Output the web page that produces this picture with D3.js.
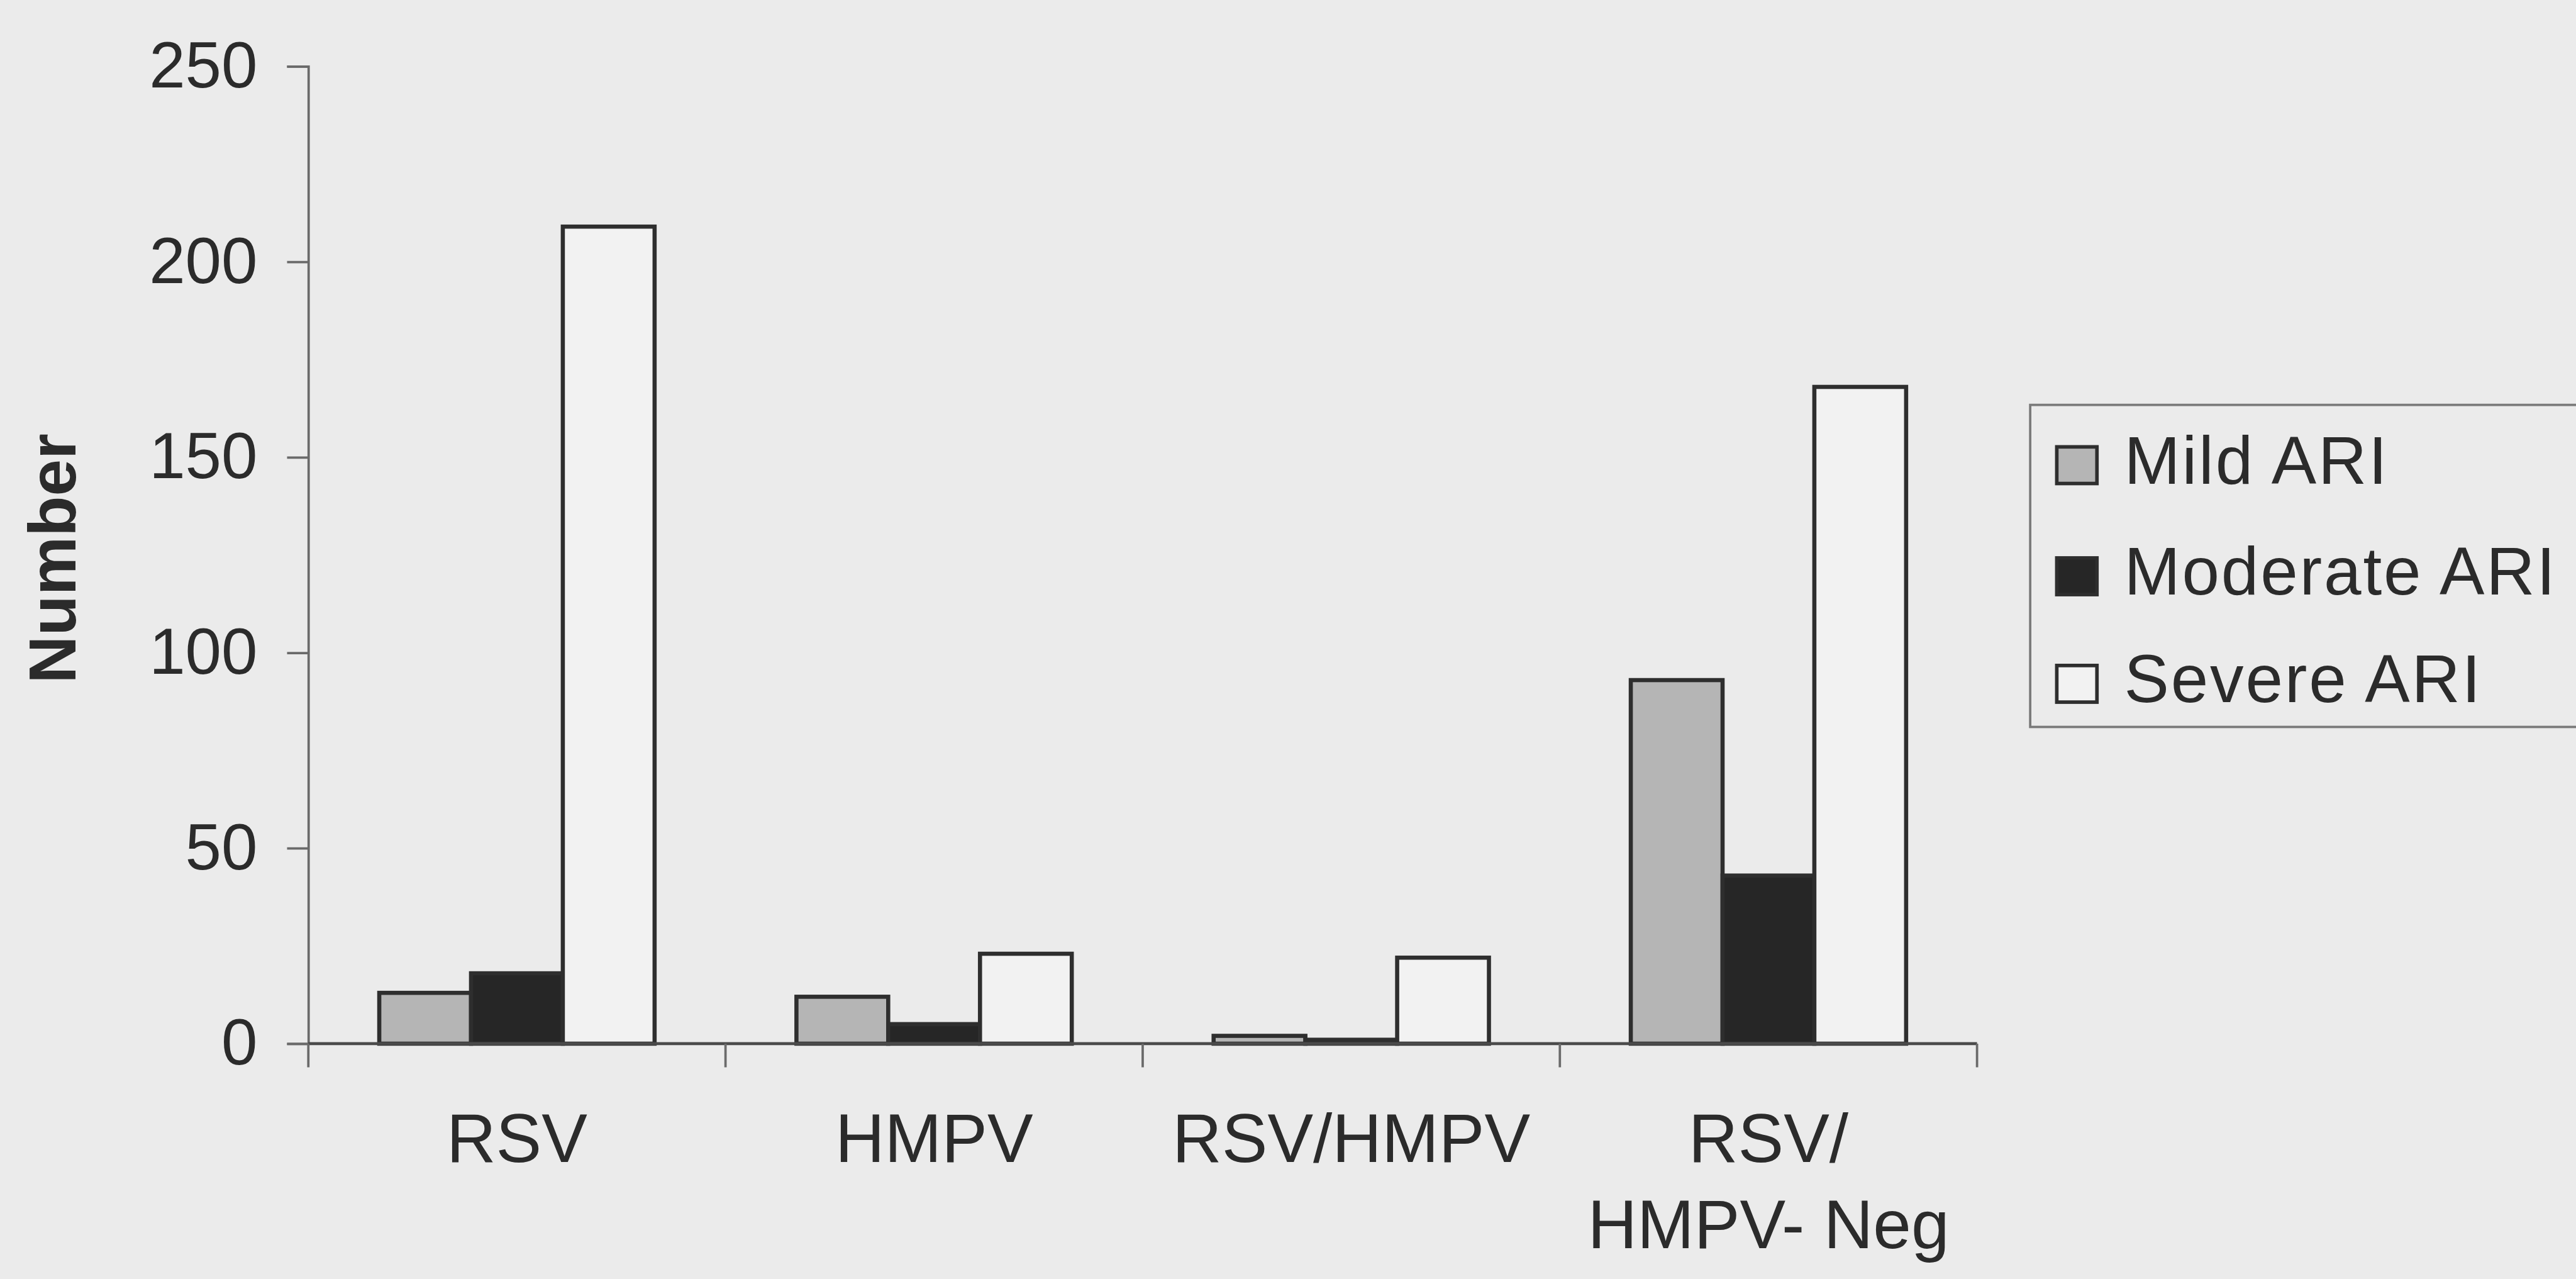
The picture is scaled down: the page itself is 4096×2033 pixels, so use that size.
<!DOCTYPE html>
<html>
<head>
<meta charset="utf-8">
<script src="https://cdn.jsdelivr.net/npm/d3@7"></script>
<style>
  html, body { margin: 0; padding: 0; background: #ebebeb; overflow: hidden; }
  svg { display: block; }
  text { font-family: "Liberation Sans", Arial, sans-serif; fill: #2b2b2b; }
</style>
</head>
<body>
<div id="chart"></div>
<script>
// values
const categories = [["RSV"], ["HMPV"], ["RSV/HMPV"], ["RSV/", "HMPV- Neg"]];
const seriesNames = ["Mild ARI", "Moderate ARI", "Severe ARI"];
const mild = [13, 12, 2, 93];
const moderate = [18, 5, 1, 43];
const severe = [209, 23, 22, 168];
const yTicks = [0, 50, 100, 150, 200, 250];

const fills = ["#b5b5b5", "#262626", "#f2f2f2"];

// drawn in the reference's own units, viewBox scales it to the window
const W = 4361, H = 2164;
const margin = { left: 522, right: 1014, top: 112, bottom: 398 };

const svg = d3.select("#chart")
    .append("svg")
    .attr("width", 4096)
    .attr("height", 2033)
    .attr("viewBox", `0 0 ${W} ${H}`);

svg.append("rect")
    .attr("width", W)
    .attr("height", H)
    .attr("fill", "#ebebeb");

const x0 = d3.scaleBand()
    .domain(d3.range(categories.length))
    .range([margin.left, W - margin.right])
    .padding(0);

const bw = x0.bandwidth();
const gap = bw * 0.34;

const x1 = d3.scaleBand()
    .domain(seriesNames)
    .range([gap / 2, bw - gap / 2])
    .padding(0);

const y = d3.scaleLinear()
    .domain([0, 250])
    .range([H - margin.bottom, margin.top]);

const rows = categories.map((c, i) => [mild[i], moderate[i], severe[i]]);

// bars
const groups = svg.selectAll(".group")
    .data(rows)
    .enter()
    .append("g")
    .attr("class", "group")
    .attr("transform", (d, i) => `translate(${x0(i)},0)`);

groups.selectAll("rect")
    .data(d => d.map((v, j) => ({ v, j })))
    .enter()
    .append("rect")
    .attr("x", d => x1(seriesNames[d.j]))
    .attr("y", d => y(d.v))
    .attr("width", x1.bandwidth())
    .attr("height", d => y(0) - y(d.v))
    .attr("fill", d => fills[d.j])
    .attr("stroke", "#2e2e2e")
    .attr("stroke-width", 7);

// y axis
const yAxis = svg.append("g")
    .attr("transform", `translate(${margin.left},0)`)
    .call(d3.axisLeft(y).tickValues(yTicks).tickSize(36).tickPadding(50));

yAxis.select(".domain").attr("stroke", "#6a6a6a").attr("stroke-width", 4);
yAxis.selectAll(".tick line").attr("stroke", "#6a6a6a").attr("stroke-width", 4);
yAxis.selectAll(".tick text")
    .attr("font-size", 110)
    .attr("fill", "#2b2b2b")
    .style("font-family", "'Liberation Sans', Arial, sans-serif");

// x axis
const xAxis = svg.append("g")
    .attr("transform", `translate(0,${y(0)})`);

xAxis.append("line")
    .attr("x1", margin.left)
    .attr("x2", W - margin.right)
    .attr("stroke", "#4a4a4a")
    .attr("stroke-width", 5);

xAxis.selectAll(".xtick")
    .data(d3.range(categories.length + 1))
    .enter()
    .append("line")
    .attr("class", "xtick")
    .attr("x1", i => margin.left + i * bw)
    .attr("x2", i => margin.left + i * bw)
    .attr("y1", 0)
    .attr("y2", 40)
    .attr("stroke", "#6a6a6a")
    .attr("stroke-width", 4);

const labels = xAxis.selectAll(".xlabel")
    .data(categories)
    .enter()
    .append("text")
    .attr("class", "xlabel")
    .attr("text-anchor", "middle")
    .attr("font-size", 116)
    .attr("transform", (d, i) => `translate(${x0(i) + bw / 2},200)`);

labels.selectAll("tspan")
    .data(d => d)
    .enter()
    .append("tspan")
    .attr("x", 0)
    .attr("dy", (d, k) => k === 0 ? 0 : 146)
    .text(d => d);

// y title
svg.append("text")
    .attr("transform", "translate(128,945) rotate(-90)")
    .attr("text-anchor", "middle")
    .attr("font-size", 112)
    .attr("font-weight", "bold")
    .text("Number");

// legend
const legend = svg.append("g")
    .attr("transform", "translate(3437,685)");

legend.append("rect")
    .attr("width", 1000)
    .attr("height", 545)
    .attr("fill", "#ebebeb")
    .attr("stroke", "#7a7a7a")
    .attr("stroke-width", 4);

const item = legend.selectAll(".legend-item")
    .data(seriesNames)
    .enter()
    .append("g")
    .attr("class", "legend-item")
    .attr("transform", (d, i) => `translate(0,${[133, 321, 503][i]})`);

item.append("rect")
    .attr("x", 45)
    .attr("y", -62)
    .attr("width", 68)
    .attr("height", 62)
    .attr("fill", (d, i) => fills[i])
    .attr("stroke", "#2e2e2e")
    .attr("stroke-width", 6);

item.append("text")
    .attr("x", 159)
    .attr("y", 0)
    .attr("font-size", 114)
    .attr("letter-spacing", 3)
    .text(d => d);
</script>
</body>
</html>
